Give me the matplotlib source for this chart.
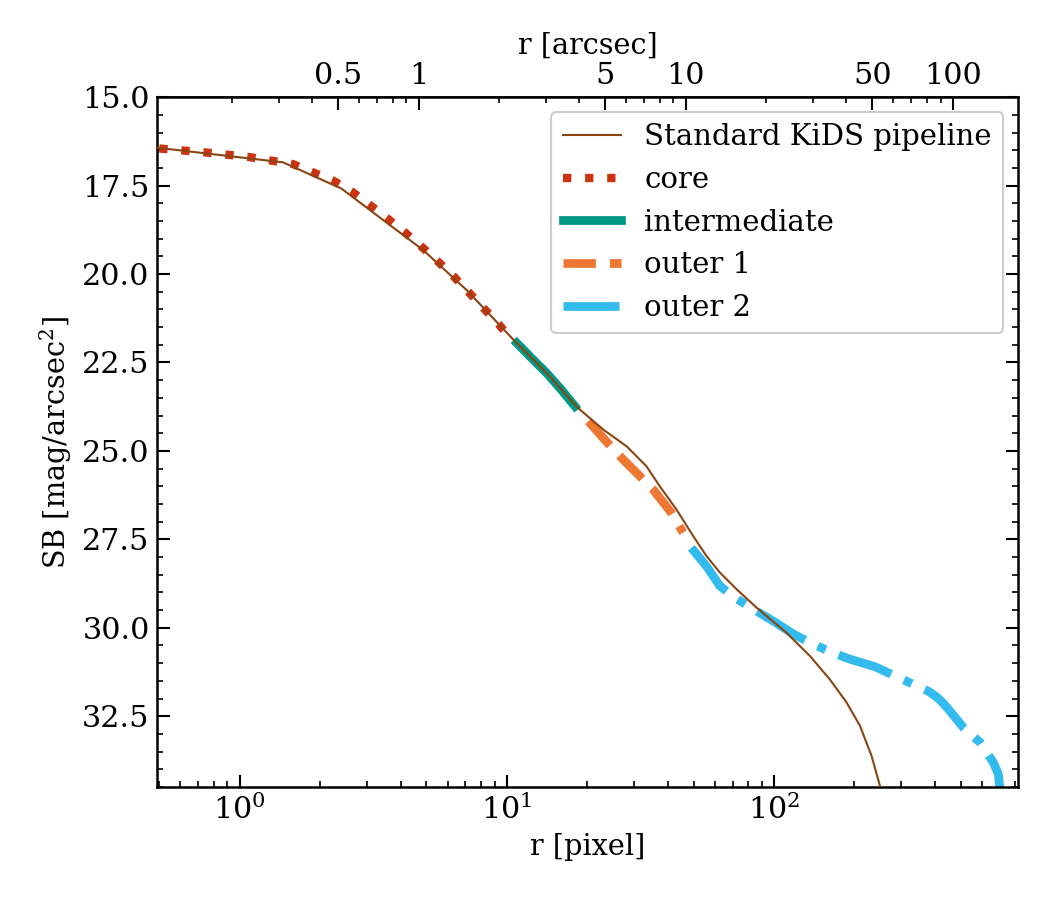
import matplotlib
matplotlib.use("Agg")
import matplotlib.pyplot as plt
from matplotlib.ticker import MultipleLocator, FixedLocator, FixedFormatter, LogLocator, NullFormatter

plt.rcParams['font.family'] = 'DejaVu Serif'
plt.rcParams['mathtext.fontset'] = 'dejavuserif'
plt.rcParams['font.size'] = 13.8

PIXSCALE = 0.214  # arcsec per pixel

# standard KiDS pipeline profile
r_std = [0.494, 1.0, 1.45, 2.4, 3.44, 4.86, 7.07, 10.6, 14.1, 18.5, 23.0, 28.1, 33.3, 37.4, 43.2,
         49.9, 55.9, 62.8, 72.5, 86.1, 111.4, 136.5, 162, 187, 210, 232, 249.5]
sb_std = [16.43, 16.70, 16.84, 17.58, 18.47, 19.32, 20.45, 21.86, 22.80, 23.79, 24.40, 24.87, 25.43, 26.00, 26.66,
          27.41, 27.97, 28.44, 28.91, 29.43, 30.14, 30.80, 31.46, 32.11, 32.77, 33.62, 34.47]

# core
r_core = [0.50, 0.74, 1.08, 1.58, 2.24, 2.63, 3.07, 3.56, 4.15, 4.80, 5.53, 6.33, 7.21, 8.22, 9.33, 10.4]
sb_core = [16.45, 16.56, 16.69, 16.89, 17.36, 17.67, 18.05, 18.42, 18.82, 19.23, 19.65, 20.07, 20.52, 20.98, 21.42, 21.85]

# intermediate
r_int = [10.9, 12.4, 14.1, 16.0, 18.0]
sb_int = [21.95, 22.38, 22.80, 23.27, 23.74]

# outer 1
r_out1 = [20.2, 23.5, 27.3, 30.6, 35.3, 41.3, 45.7]
sb_out1 = [24.16, 24.72, 25.25, 25.62, 26.09, 26.75, 27.31]

# outer 2
r_out2 = [49.1, 55.9, 62.8, 71.5, 84.0, 99.4, 118.5, 136.5, 165, 193, 239, 280, 342, 380, 406, 430, 456, 512,
          591, 663, 693, 700]
sb_out2 = [27.74, 28.26, 28.82, 29.15, 29.48, 29.81, 30.18, 30.42, 30.70, 30.89, 31.10, 31.34, 31.64, 31.80, 31.95,
           32.13, 32.35, 32.82, 33.24, 33.81, 34.14, 34.50]

fig = plt.figure(figsize=(7, 6), dpi=150)
ax = fig.add_axes([0.1495, 0.1256, 0.82, 0.7664])

ax.plot(r_std, sb_std, color='#8B4513', lw=1.0, label='Standard KiDS pipeline', zorder=3)
ax.plot(r_core, sb_core, color='#CC3311', lw=4.0, ls=':', label='core', zorder=2)
ax.plot(r_int, sb_int, color='#009988', lw=4.2, ls='-', label='intermediate', zorder=2)
ax.plot(r_out1, sb_out1, color='#EE7733', lw=4.2, ls='--', label='outer 1', zorder=2)
ax.plot(r_out2, sb_out2, color='#33BBEE', lw=4.2, ls='-.', label='outer 2', zorder=2)

ax.set_xscale('log')
ax.set_xlim(0.49, 820)
ax.set_ylim(34.5, 15.0)
ax.yaxis.set_major_locator(MultipleLocator(2.5))
ax.yaxis.set_minor_locator(MultipleLocator(0.5))
ax.tick_params(which='both', direction='in', right=True, top=False, labelsize=14.5)
ax.tick_params(which='major', length=6, width=1)
ax.tick_params(which='minor', length=3, width=0.8)
for s in ax.spines.values():
    s.set_linewidth(1.2)

ax.set_xlabel('r [pixel]')
ax.set_ylabel('SB [mag/arcsec$^2$]')

sec = ax.secondary_xaxis('top', functions=(lambda x: x * PIXSCALE, lambda x: x / PIXSCALE))
top_ticks = [0.5, 1, 5, 10, 50, 100]
sec.xaxis.set_major_locator(FixedLocator(top_ticks))
sec.xaxis.set_major_formatter(FixedFormatter(['0.5', '1', '5', '10', '50', '100']))
sec.xaxis.set_minor_locator(LogLocator(base=10, subs=range(2, 10)))
sec.xaxis.set_minor_formatter(NullFormatter())
sec.tick_params(which='both', direction='in', labelsize=14.5)
sec.tick_params(which='major', length=6, width=1)
sec.tick_params(which='minor', length=3, width=0.8)
sec.set_xlabel('r [arcsec]')

ax.legend(loc='upper right', fontsize=14, framealpha=1.0)

fig.savefig('out.png', dpi=150)
